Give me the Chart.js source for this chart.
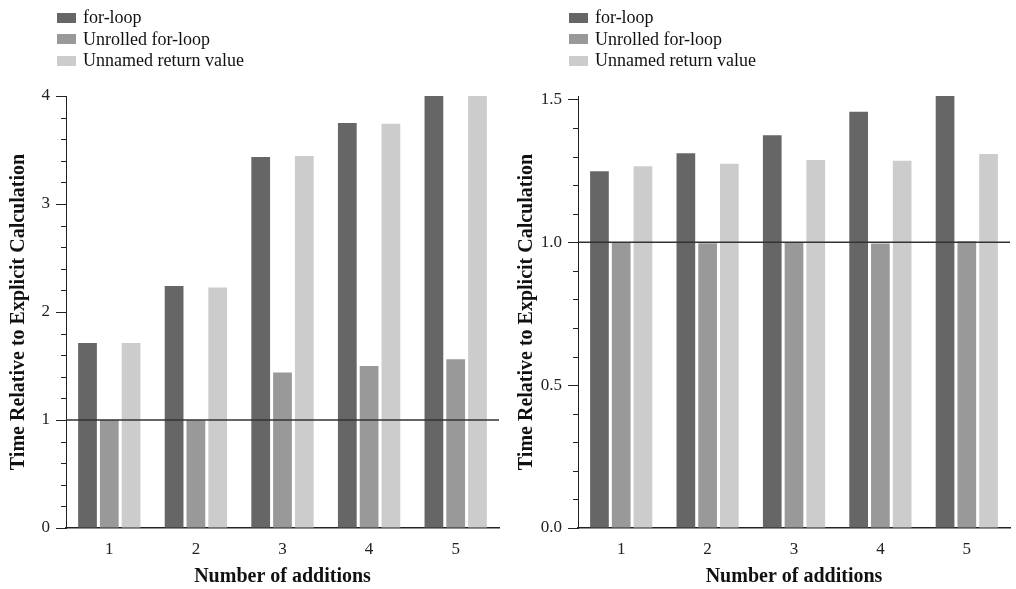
<!DOCTYPE html>
<html>
<head>
<meta charset="utf-8">
<title>Time relative to explicit calculation</title>
<script src="https://cdn.jsdelivr.net/npm/chart.js@4.4.1/dist/chart.umd.min.js"></script>
<style>
  html, body { margin: 0; padding: 0; background: #fff; }
  #page { position: relative; width: 1016px; height: 589px; }
  .panel { position: absolute; top: 0; width: 508px; height: 589px; }
  .legend {
    position: absolute; top: 7px;
    font-family: 'Liberation Serif', 'Times New Roman', serif;
    font-size: 18px; color: #111;
  }
  .legend .row { display: flex; align-items: center; height: 21.5px; }
  .legend .box { width: 19px; height: 10px; margin-right: 7px; }
</style>
</head>
<body>
<div id="page">
  <div class="panel" style="left:0">
    <canvas id="chartLeft" width="508" height="589"></canvas>
    <div class="legend" id="legendLeft"></div>
  </div>
  <div class="panel" style="left:508px">
    <canvas id="chartRight" width="508" height="589"></canvas>
    <div class="legend" id="legendRight"></div>
  </div>
</div>
<script>
// Data
const categories = ['1', '2', '3', '4', '5'];
const seriesNames = ['for-loop', 'Unrolled for-loop', 'Unnamed return value'];
const seriesColors = ['#666666', '#999999', '#cccccc'];

// left panel
const leftForLoop = [1.714, 2.24, 3.436, 3.751, 4.0];
const leftUnrolled = [1.0, 0.997, 1.44, 1.50, 1.563];
const leftUnnamed = [1.714, 2.228, 3.445, 3.744, 4.0];

// right panel
const rightForLoop = [1.249, 1.312, 1.375, 1.457, 1.512];
const rightUnrolled = [1.0, 0.997, 1.0, 0.996, 1.004];
const rightUnnamed = [1.266, 1.275, 1.288, 1.285, 1.309];

const FONT = "'Liberation Serif', 'Times New Roman', serif";
const INK = '#222';

// Minor ticks on the y axis + the reference line at 1
const extras = {
  id: 'extras',
  afterDatasetsDraw(chart, args, opts) {
    const y = chart.scales.y;
    const { left, right } = chart.chartArea;
    const ctx = chart.ctx;
    ctx.save();
    ctx.strokeStyle = '#333';
    ctx.lineWidth = 1.5;
    const py = y.getPixelForValue(1);
    ctx.beginPath();
    ctx.moveTo(left, py);
    ctx.lineTo(right, py);
    ctx.stroke();
    ctx.restore();
  },
  afterDraw(chart, args, opts) {
    const y = chart.scales.y;
    const x0 = chart.chartArea.left;
    const ctx = chart.ctx;
    const n = Math.floor(y.max / opts.minorStep + 1e-6);
    ctx.save();
    ctx.strokeStyle = INK;
    ctx.lineWidth = 1;
    for (let i = 0; i <= n; i++) {
      const p = Math.round(y.getPixelForValue(i * opts.minorStep)) + 0.5;
      ctx.beginPath();
      ctx.moveTo(x0 - 5, p);
      ctx.lineTo(x0, p);
      ctx.stroke();
    }
    ctx.restore();
  }
};

function makeChart(id, values, yMax, majorStep, minorStep, decimals, axisWidth, padRight) {
  return new Chart(document.getElementById(id), {
    type: 'bar',
    data: {
      labels: categories,
      datasets: values.map((v, i) => ({
        label: seriesNames[i],
        data: v,
        backgroundColor: seriesColors[i],
        borderWidth: 0,
        categoryPercentage: 0.755,
        barPercentage: 0.86
      }))
    },
    options: {
      responsive: false,
      animation: false,
      layout: { padding: { top: 96, right: padRight, left: 0, bottom: 0 } },
      plugins: {
        legend: { display: false },
        tooltip: { enabled: false },
        extras: { minorStep }
      },
      scales: {
        x: {
          grid: { display: false, drawTicks: false },
          border: { display: true, color: INK, width: 1.5 },
          ticks: { color: INK, font: { family: FONT, size: 17 }, padding: 11 },
          title: {
            display: true,
            text: 'Number of additions',
            color: '#111',
            font: { family: FONT, size: 20, weight: 'bold' },
            padding: { top: 0, bottom: 0 }
          },
          afterFit: s => { s.height = 61; }
        },
        y: {
          min: 0,
          max: yMax,
          grid: { drawOnChartArea: false, drawTicks: true, tickLength: 10, tickColor: INK, tickWidth: 1 },
          border: { display: true, color: INK, width: 1 },
          ticks: {
            color: INK,
            font: { family: FONT, size: 17 },
            padding: 6,
            callback: v => Number(v).toFixed(decimals)
          },
          // major ticks only at whole multiples of the step, never at the raw max
          afterBuildTicks: s => {
            const n = Math.floor(yMax / majorStep + 1e-6);
            s.ticks = [];
            for (let i = 0; i <= n; i++) s.ticks.push({ value: i * majorStep });
          },
          title: {
            display: true,
            text: 'Time Relative to Explicit Calculation',
            color: '#111',
            font: { family: FONT, size: 20, weight: 'bold' },
            padding: { top: 7, bottom: 0 }
          },
          afterFit: s => { s.width = axisWidth; }
        }
      }
    },
    plugins: [extras]
  });
}

function buildLegend(elId, chart) {
  const el = document.getElementById(elId);
  el.style.left = (chart.chartArea.left - 9) + 'px';
  chart.data.datasets.forEach(ds => {
    const row = document.createElement('div');
    row.className = 'row';
    const box = document.createElement('span');
    box.className = 'box';
    box.style.background = ds.backgroundColor;
    const txt = document.createElement('span');
    txt.textContent = ds.label;
    row.appendChild(box);
    row.appendChild(txt);
    el.appendChild(row);
  });
}

const leftChart = makeChart('chartLeft', [leftForLoop, leftUnrolled, leftUnnamed], 4, 1, 0.2, 0, 66, 9);
const rightChart = makeChart('chartRight', [rightForLoop, rightUnrolled, rightUnnamed], 1.512, 0.5, 0.1, 1, 70, 6);
buildLegend('legendLeft', leftChart);
buildLegend('legendRight', rightChart);
</script>
</body>
</html>
